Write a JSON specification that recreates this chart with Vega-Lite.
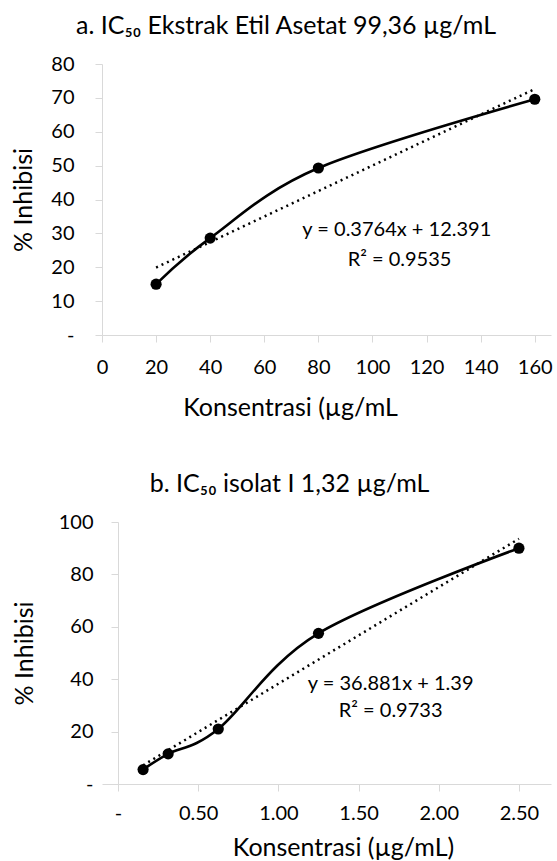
{
  "$schema": "https://vega.github.io/schema/vega-lite/v6.json",
  "padding": {"left": 11, "top": 14, "right": 7, "bottom": 0},
  "background": "#ffffff",
  "config": {
    "font": "Lato",
    "view": {"stroke": null},
    "axis": {
      "grid": false,
      "domainColor": "#d9d9d9",
      "tickColor": "#d9d9d9",
      "tickSize": 7,
      "labelFontSize": 20,
      "labelColor": "#000000",
      "labelFlush": false,
      "labelOverlap": false,
      "titleFontSize": 25,
      "titleFontWeight": "normal",
      "titleColor": "#000000"
    },
    "title": {"fontSize": 25, "fontWeight": "normal", "color": "#000000", "frame": "bounds", "anchor": "middle", "offset": 15}
  },
  "datasets": {
    "a_pts": [{"x": 20, "y": 15.0}, {"x": 40, "y": 28.6}, {"x": 80, "y": 49.3}, {"x": 160, "y": 69.6}],
    "a_trend": [{"x": 20, "y": 19.92}, {"x": 160, "y": 72.61}],
    "a_eq": [{"x": 109, "y": 31, "t": "y = 0.3764x + 12.391"}, {"x": 110, "y": 22, "t": "R² = 0.9535"}],
    "b_pts": [{"x": 0.15625, "y": 5.5}, {"x": 0.3125, "y": 11.5}, {"x": 0.625, "y": 21.0}, {"x": 1.25, "y": 57.5}, {"x": 2.5, "y": 90.0}],
    "b_trend": [{"x": 0.15625, "y": 7.15}, {"x": 2.5, "y": 93.59}],
    "b_eq": [{"x": 1.7, "y": 38, "t": "y = 36.881x + 1.39"}, {"x": 1.7, "y": 28, "t": "R² = 0.9733"}]
  },
  "columns": 1,
  "spacing": 52,
  "concat": [
    {
      "width": 449,
      "height": 271,
      "title": {"text": "a. IC₅₀ Ekstrak Etil Asetat 99,36 µg/mL", "dx": 4},
      "encoding": {
        "x": {"field": "x", "type": "quantitative",
              "scale": {"domain": [0, 166], "nice": false, "zero": false},
              "axis": {"title": "Konsentrasi (µg/mL", "values": [0, 20, 40, 60, 80, 100, 120, 140, 160],
                       "labelPadding": 15, "titleX": 188, "titleY": 72, "titleBaseline": "middle", "titleAlign": "center"}},
        "y": {"field": "y", "type": "quantitative",
              "scale": {"domain": [0, 80], "nice": false},
              "axis": {"title": "% Inhibisi", "values": [0, 10, 20, 30, 40, 50, 60, 70, 80],
                       "labelExpr": "datum.value == 0 ? '-' : datum.label",
                       "labelPadding": 21, "titlePadding": 14}}
      },
      "layer": [
        {"data": {"name": "a_trend"}, "mark": {"type": "line", "strokeDash": [2, 4], "strokeWidth": 2.5, "color": "#000000"}},
        {"data": {"name": "a_pts"}, "mark": {"type": "line", "interpolate": "cardinal", "strokeWidth": 2.6, "color": "#000000"}},
        {"data": {"name": "a_pts"}, "mark": {"type": "point", "filled": true, "size": 125, "opacity": 1, "color": "#000000"}},
        {"data": {"name": "a_eq"}, "mark": {"type": "text", "fontSize": 20, "color": "#000000"}, "encoding": {"text": {"field": "t"}}}
      ]
    },
    {
      "width": 449,
      "height": 262,
      "title": {"text": "b. IC₅₀ isolat I 1,32 µg/mL", "dx": 8},
      "encoding": {
        "x": {"field": "x", "type": "quantitative",
              "scale": {"domain": [-0.1, 2.7], "nice": false, "zero": false},
              "axis": {"title": "Konsentrasi (µg/mL)", "values": [0, 0.5, 1, 1.5, 2, 2.5], "format": ".2f",
                       "labelExpr": "datum.value == 0 ? '-' : datum.label",
                       "labelPadding": 12, "titleY": 63, "titleBaseline": "middle", "titleX": 241, "titleAlign": "center"}},
        "y": {"field": "y", "type": "quantitative",
              "scale": {"domain": [0, 100], "nice": false},
              "axis": {"title": "% Inhibisi", "values": [0, 20, 40, 60, 80, 100], "offset": -16,
                       "labelExpr": "datum.value == 0 ? '-' : datum.label",
                       "labelPadding": 18, "titlePadding": 21}}
      },
      "layer": [
        {"data": {"name": "b_trend"}, "mark": {"type": "line", "strokeDash": [2, 4], "strokeWidth": 2.5, "color": "#000000"}},
        {"data": {"name": "b_pts"}, "mark": {"type": "line", "interpolate": "cardinal", "strokeWidth": 2.6, "color": "#000000"}},
        {"data": {"name": "b_pts"}, "mark": {"type": "point", "filled": true, "size": 125, "opacity": 1, "color": "#000000"}},
        {"data": {"name": "b_eq"}, "mark": {"type": "text", "fontSize": 20, "color": "#000000"}, "encoding": {"text": {"field": "t"}}}
      ]
    }
  ]
}
